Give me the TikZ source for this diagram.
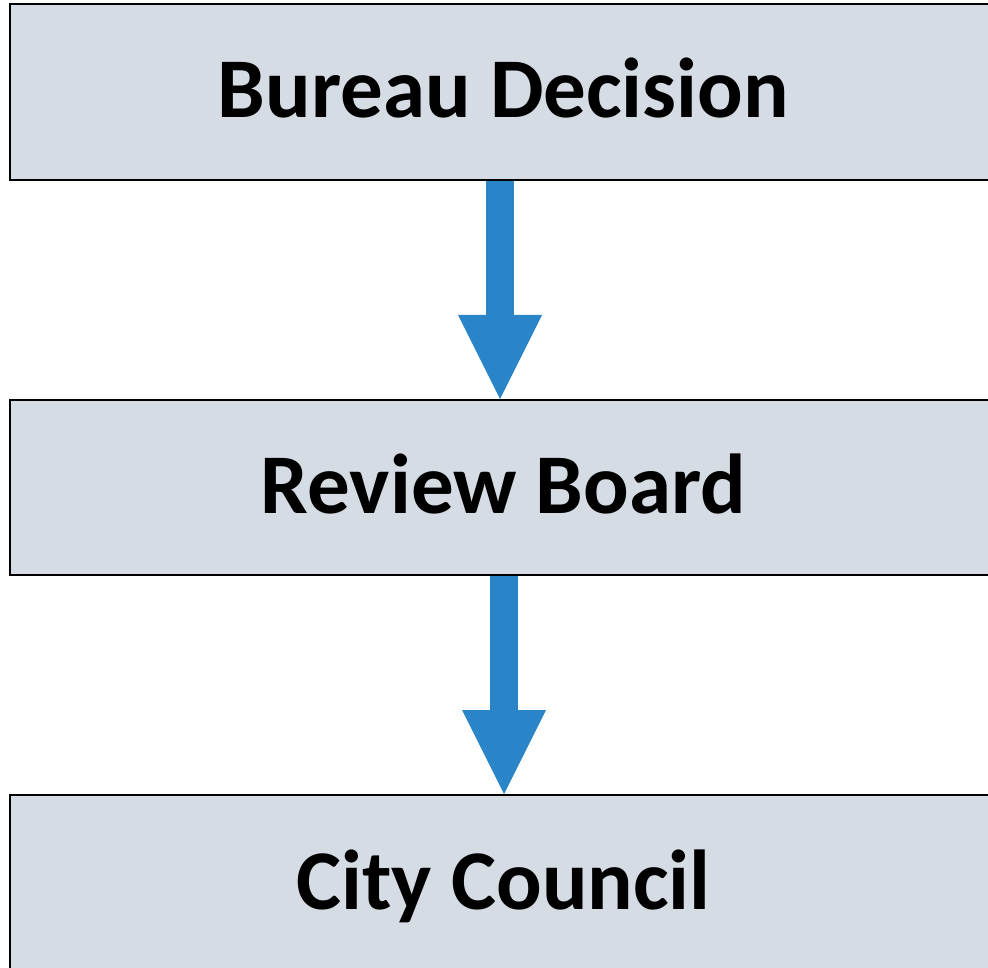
\documentclass[tikz,border=0pt]{standalone}
\usepackage{fontspec}
\setmainfont{Carlito}
\usetikzlibrary{arrows.meta}
\definecolor{boxfill}{HTML}{D6DCE4}
\definecolor{flowblue}{HTML}{2A84C8}
\tikzset{
  stagebox/.style={draw=black,line width=2pt,fill=boxfill,inner sep=0pt,
    minimum width=987pt,minimum height=176pt,text height=60pt,text depth=8pt,
    font=\fontsize{85}{100}\selectfont\bfseries},
  flowarrow/.style={flowblue,line width=28pt,
    -{Triangle[width=84pt,length=84pt,line width=0pt]}}
}
\begin{document}
\begin{tikzpicture}[x=1pt,y=-1pt]
  \clip (0,0) rectangle (988,968);
  \fill[white] (0,0) rectangle (988,968);
  \node[stagebox] (bureau) at (503.5,92) {Bureau Decision};
  \node[stagebox,minimum height=175pt] (review) at (503.5,487.5) {Review Board};
  \node[stagebox] (council) at (503.5,883) {City Council};
  \draw[flowarrow] ([xshift=-3.5pt]bureau.south) -- ([xshift=-3.5pt]review.north);
  \draw[flowarrow] ([xshift=0.5pt]review.south) -- ([xshift=0.5pt]council.north);
\end{tikzpicture}
\end{document}
